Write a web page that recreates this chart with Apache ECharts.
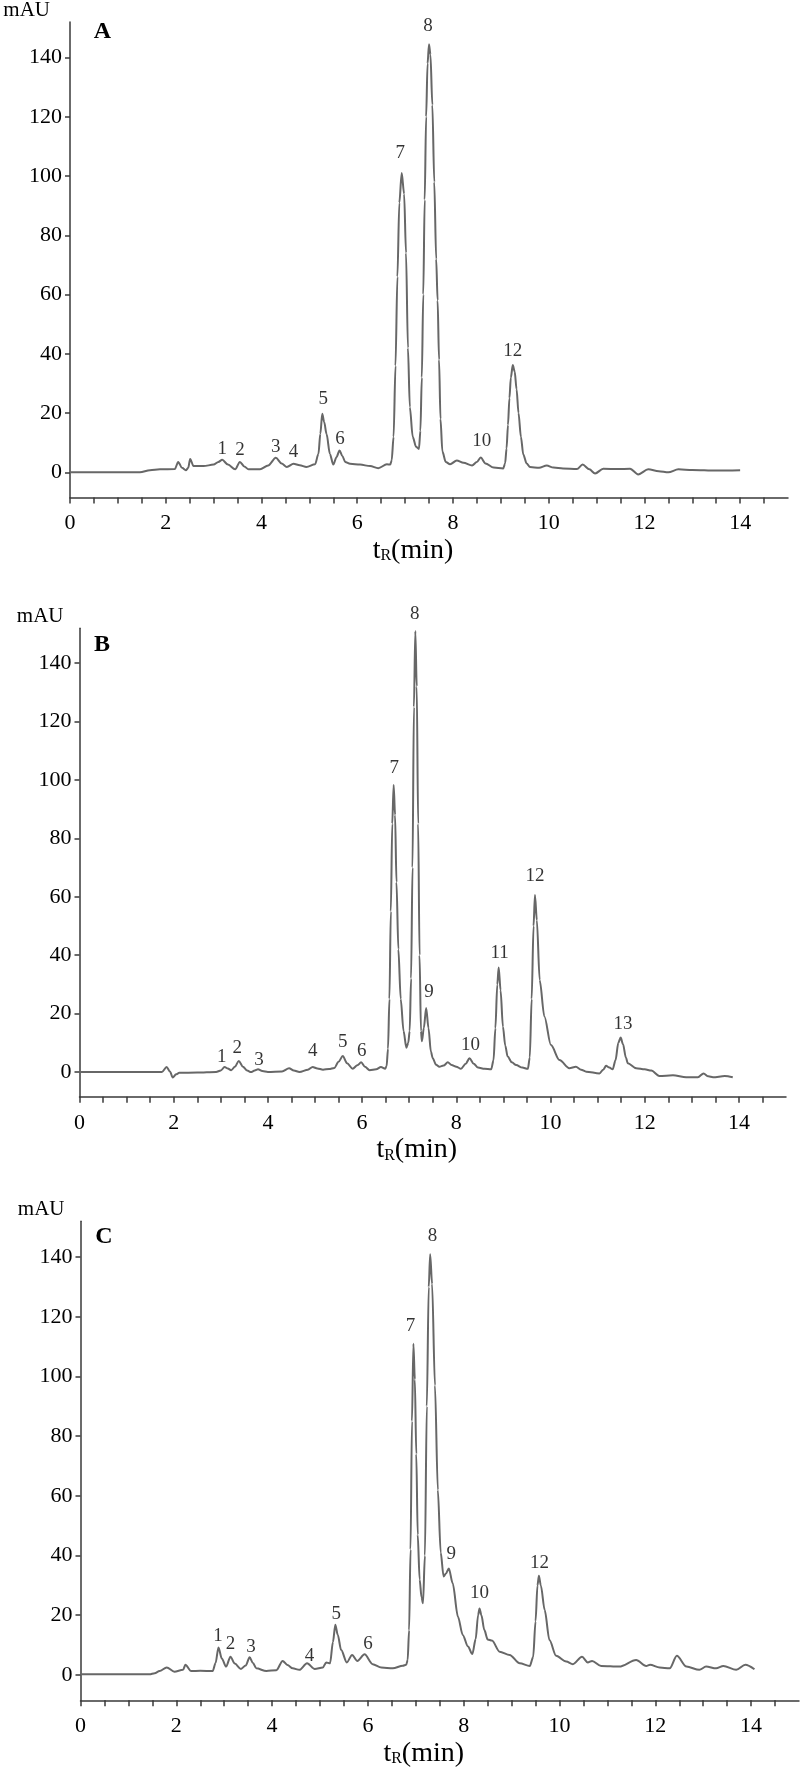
<!DOCTYPE html>
<html>
<head>
<meta charset="utf-8">
<script src="https://cdn.jsdelivr.net/npm/echarts@6/dist/echarts.min.js"></script>
<style>
  html, body { margin: 0; padding: 0; background: #fff; }
  #chart { width: 800px; height: 1772px; }
</style>
</head>
<body>
<div id="chart"></div>
<script>
// chromatograms, [tR (min), signal (mAU)]
const traceA = [
  [0, 0], [0.5, 0], [1.0, 0], [1.46, 0], [1.67, 0.7], [1.88, 1.0], [2.19, 1.1], [2.26, 3.5], [2.34, 1.5],
  [2.42, 0.7], [2.47, 1.5], [2.51, 4.5], [2.58, 2.1], [2.79, 2.1], [3.0, 2.6], [3.1, 3.5], [3.18, 4.2],
  [3.3, 2.6], [3.45, 1.0], [3.55, 3.5], [3.64, 2.0], [3.73, 1.0], [3.97, 1.0], [4.14, 2.3], [4.3, 4.9],
  [4.42, 3.0], [4.53, 1.8], [4.67, 2.9], [4.8, 2.4], [4.94, 1.8], [5.12, 2.7], [5.19, 6.2], [5.23, 13],
  [5.27, 19.8], [5.31, 17], [5.36, 12.9], [5.43, 6.2], [5.5, 2.6], [5.57, 5.2], [5.63, 7.4], [5.69, 5.5],
  [5.75, 3.5], [5.85, 2.9], [6.06, 2.6], [6.27, 2.1], [6.44, 1.4], [6.62, 2.7], [6.69, 2.6],
  [6.72, 4], [6.76, 12], [6.8, 36], [6.84, 66], [6.88, 91], [6.93, 101], [6.98, 94], [7.02, 74],
  [7.06, 42], [7.1, 22], [7.16, 12], [7.23, 8.6], [7.29, 7.9],
  [7.32, 14], [7.35, 32], [7.38, 60], [7.41, 92], [7.44, 120], [7.47, 138], [7.5, 144.5], [7.53, 141],
  [7.57, 124], [7.61, 98], [7.65, 72], [7.68, 58], [7.71, 38], [7.74, 18], [7.78, 7], [7.85, 3.5],
  [7.94, 2.7], [8.08, 4.0], [8.22, 3.2], [8.4, 2.3], [8.5, 3.5], [8.58, 5.0], [8.68, 3.0], [8.85, 1.6],
  [9.05, 1.3], [9.09, 3], [9.12, 8], [9.15, 16], [9.18, 25], [9.21, 32], [9.25, 36.2], [9.29, 34],
  [9.33, 28], [9.37, 20], [9.42, 12], [9.47, 6], [9.54, 3], [9.61, 1.8],
  [9.8, 1.5], [9.96, 2.3], [10.1, 1.6], [10.3, 1.3], [10.59, 1.1], [10.71, 2.6], [10.85, 1.0],
  [10.97, -0.4], [11.14, 1.2], [11.45, 1.1], [11.7, 1.2], [11.87, -0.7], [12.08, 1.0], [12.3, 0.4],
  [12.5, 0], [12.71, 1.0], [13.0, 0.8], [13.5, 0.6], [14.0, 0.7]
];
const traceB = [
  [0, 0], [1.0, 0], [1.75, 0], [1.85, 1.7], [1.92, 0.2], [1.98, -1.9], [2.05, -0.8], [2.12, -0.3],
  [2.5, -0.2], [2.9, 0], [3.0, 0.5], [3.08, 1.7], [3.15, 1.2], [3.22, 0.6], [3.3, 1.8], [3.38, 3.8],
  [3.47, 1.8], [3.56, 0.5], [3.64, 0], [3.72, 0.5], [3.79, 0.9], [3.88, 0.3], [4.0, 0], [4.3, 0.2],
  [4.45, 1.3], [4.55, 0.5], [4.67, 0], [4.85, 0.8], [4.95, 1.7], [5.05, 1.2], [5.17, 0.8], [5.3, 1.0],
  [5.41, 1.4], [5.5, 3.5], [5.59, 5.5], [5.68, 3.0], [5.8, 1.1], [5.9, 2.3], [5.98, 3.3], [6.06, 1.8],
  [6.16, 0.6], [6.3, 0.9], [6.4, 1.7], [6.49, 1.1], [6.52, 2], [6.55, 8], [6.58, 25], [6.61, 55],
  [6.64, 85], [6.67, 98.3], [6.7, 88], [6.73, 65], [6.77, 42], [6.82, 25], [6.88, 14], [6.94, 8.3],
  [6.98, 10], [7.01, 14], [7.04, 32], [7.07, 70], [7.1, 125], [7.13, 151], [7.16, 132], [7.19, 85],
  [7.22, 40], [7.25, 14], [7.27, 10.5], [7.31, 15], [7.36, 21.9], [7.41, 15], [7.46, 7], [7.5, 4.7],
  [7.57, 2.5], [7.64, 1.8], [7.73, 2.2], [7.82, 3.3], [7.9, 2.4], [8.0, 1.8], [8.1, 1.1], [8.2, 2.8],
  [8.28, 4.7], [8.37, 2.8], [8.46, 1.5], [8.6, 1.1], [8.74, 0.9], [8.79, 4], [8.83, 15], [8.87, 30],
  [8.9, 35.8], [8.94, 28], [8.99, 15.5], [9.04, 9], [9.09, 5.3], [9.18, 3.3], [9.27, 2.4], [9.4, 1.5],
  [9.52, 1.1], [9.56, 5], [9.6, 25], [9.64, 50], [9.67, 60.6], [9.71, 52], [9.77, 31.5], [9.87, 19],
  [10.01, 9.2], [10.19, 4.1], [10.4, 1.3], [10.54, 1.8], [10.65, 0.8], [10.76, 0.1], [11.04, -0.5],
  [11.12, 0.8], [11.18, 2.1], [11.25, 1.5], [11.32, 0.9], [11.38, 4], [11.44, 10], [11.49, 11.8],
  [11.54, 9.5], [11.6, 5], [11.64, 3], [11.82, 1.3], [12.0, 0.9], [12.14, 0.5], [12.31, -1.4],
  [12.6, -1.1], [12.88, -1.8], [13.13, -1.8], [13.25, -0.5], [13.35, -1.5], [13.45, -1.8],
  [13.7, -1.4], [13.87, -1.8]
];
const traceC = [
  [0, 0.2], [1.0, 0.2], [1.44, 0.2], [1.55, 0.6], [1.65, 1.3], [1.8, 2.5], [1.96, 1.1], [2.14, 1.7],
  [2.19, 3.4], [2.31, 1.3], [2.5, 1.4], [2.76, 1.3], [2.82, 4], [2.88, 9.2], [2.95, 5.5], [3.04, 2.8],
  [3.13, 6.1], [3.22, 3.8], [3.35, 2.0], [3.45, 3.2], [3.53, 5.9], [3.6, 4.0], [3.67, 2.2], [3.88, 1.3],
  [4.09, 1.6], [4.22, 4.7], [4.32, 3.3], [4.43, 2.2], [4.57, 1.7], [4.73, 3.9], [4.89, 2.0], [5.06, 2.5],
  [5.13, 4.2], [5.21, 3.9], [5.27, 11], [5.32, 16.8], [5.37, 13.5], [5.44, 8.4], [5.56, 4.2],
  [5.67, 6.7], [5.78, 4.7], [5.93, 6.9], [6.1, 3.6], [6.28, 2.5], [6.52, 2.2], [6.73, 3.1], [6.8, 3.4],
  [6.83, 5], [6.86, 15], [6.89, 42], [6.92, 85], [6.95, 111], [6.98, 99], [7.01, 74], [7.04, 47],
  [7.08, 32], [7.12, 26], [7.15, 24],
  [7.19, 40], [7.23, 90], [7.27, 130], [7.3, 141], [7.34, 131], [7.4, 97], [7.46, 62], [7.52, 41],
  [7.58, 33], [7.63, 34], [7.69, 35.7], [7.77, 30.7], [7.88, 19.5], [7.98, 13.4], [8.09, 9.5],
  [8.18, 7.0], [8.25, 12], [8.3, 20], [8.33, 22.3], [8.37, 20], [8.43, 15.1], [8.5, 11.9], [8.59, 11.5],
  [8.75, 7.8], [8.96, 6.7], [9.17, 3.9], [9.38, 3.0], [9.45, 6], [9.5, 18], [9.54, 30], [9.57, 33.2],
  [9.61, 30], [9.69, 21.8], [9.79, 11.7], [9.93, 6.4], [10.14, 4.5], [10.28, 3.6], [10.47, 6.1],
  [10.59, 4.2], [10.68, 4.7], [10.87, 3.0], [11.25, 2.8], [11.6, 5.0], [11.81, 3.0], [11.89, 3.4],
  [12.09, 2.5], [12.3, 2.2], [12.45, 6.4], [12.65, 2.8], [12.92, 1.7], [13.06, 2.8], [13.27, 2.2],
  [13.42, 3.0], [13.69, 1.7], [13.88, 3.4], [14.07, 1.9]
];

// peak numbers [label, tR, mAU]
const peaksA = [["1", 3.18, 7.7], ["2", 3.55, 7.4], ["3", 4.30, 8.7], ["4", 4.67, 7.0], ["5", 5.29, 24.6],
  ["6", 5.64, 11.3], ["7", 6.9, 107.7], ["8", 7.48, 150.5], ["10", 8.6, 10.4], ["12", 9.25, 41]];
const peaksB = [["1", 3.02, 5.2], ["2", 3.35, 8.1], ["3", 3.81, 4.1], ["4", 4.95, 7.3], ["5", 5.59, 10.4],
  ["6", 5.99, 7.3], ["7", 6.68, 104], ["8", 7.12, 157], ["9", 7.42, 27.5], ["10", 8.3, 9.2],
  ["11", 8.92, 40.9], ["12", 9.67, 67], ["13", 11.54, 16.4]];
const peaksC = [["1", 2.87, 13.1], ["2", 3.13, 10.4], ["3", 3.56, 9.3], ["4", 4.78, 6.4], ["5", 5.34, 20.4],
  ["6", 6.0, 10.4], ["7", 6.89, 117], ["8", 7.35, 147], ["9", 7.74, 40.5], ["10", 8.33, 27.6],
  ["12", 9.58, 37.6]];

const panelNames = ["A", "B", "C"];
const xTickLabels = [0, 2, 4, 6, 8, 10, 12, 14];
const xTicks = [0, 0.5, 1, 1.5, 2, 2.5, 3, 3.5, 4, 4.5, 5, 5.5, 6, 6.5, 7, 7.5, 8, 8.5, 9, 9.5,
  10, 10.5, 11, 11.5, 12, 12.5, 13, 13.5, 14, 14.5];
const yTickLabels = [0, 20, 40, 60, 80, 100, 120, 140];

const FONT = '"Liberation Serif", "Times New Roman", serif';
const AXIS_COLOR = '#3a3a3a';
const LINE_COLOR = '#676767';

// panel boxes in px, letter = position of the panel letter
const boxes = [
  { left: 70, top: 17.5, width: 718, height: 480, letter: [102.5, 32] },
  { left: 79.5, top: 628.2, width: 706.5, height: 468.6, letter: [102, 645] },
  { left: 80.5, top: 1221.3, width: 718.5, height: 479, letter: [104, 1237] }
];
const traces = [traceA, traceB, traceC];
const peaks = [peaksA, peaksB, peaksC];

const chart = echarts.init(document.getElementById('chart'));

const grid = [], xAxis = [], yAxis = [], series = [], graphic = [];
boxes.forEach((b, i) => {
  grid.push({ left: b.left, top: b.top, width: b.width, height: b.height });
  xAxis.push({
    gridIndex: i, type: 'value', min: 0, max: 15,
    name: '{t|t}{r|R}{m|(min)}', nameLocation: 'middle', nameGap: 39,
    nameTextStyle: {
      padding: [0, 32, 0, 0],
      rich: {
        t: { fontFamily: FONT, fontSize: 28, color: '#000' },
        r: { fontFamily: FONT, fontSize: 16, color: '#000', padding: [11, 0, 0, 0] },
        m: { fontFamily: FONT, fontSize: 28, color: '#000' }
      }
    },
    axisLine: { onZero: false, lineStyle: { color: AXIS_COLOR, width: 1.5 } },
    axisTick: { customValues: xTicks, length: 6, lineStyle: { color: AXIS_COLOR, width: 1.5 } },
    axisLabel: { customValues: xTickLabels, margin: 15, fontFamily: FONT, fontSize: 22, color: '#000' },
    splitLine: { show: false }
  });
  yAxis.push({
    gridIndex: i, type: 'value', min: -8.5, max: 152,
    name: 'mAU', nameLocation: 'end', nameGap: 1,
    nameTextStyle: { fontFamily: FONT, fontSize: 21, color: '#000', align: 'right', padding: [0, i === 0 ? 20 : 16, 0, 0] },
    axisLine: { lineStyle: { color: AXIS_COLOR, width: 1.5 } },
    axisTick: { customValues: yTickLabels, length: 5, lineStyle: { color: AXIS_COLOR, width: 1.5 } },
    axisLabel: { customValues: yTickLabels, margin: 8, fontFamily: FONT, fontSize: 22, color: '#000' },
    splitLine: { show: false }
  });
  series.push({
    type: 'line', xAxisIndex: i, yAxisIndex: i, data: traces[i],
    showSymbol: false, smooth: 0.3, smoothMonotone: 'x', clip: false,
    lineStyle: { color: LINE_COLOR, width: 2 }, silent: true
  });
  series.push({
    type: 'scatter', xAxisIndex: i, yAxisIndex: i, symbolSize: 0, clip: false, silent: true,
    data: peaks[i].map(p => ({ name: p[0], value: [p[1], p[2]] })),
    label: { show: true, position: 'inside', formatter: '{b}', fontFamily: FONT, fontSize: 19, color: '#000' }
  });
  graphic.push({
    type: 'text', x: b.letter[0], y: b.letter[1],
    style: {
      text: panelNames[i], font: 'bold 24px ' + FONT, fill: '#000',
      align: 'center', verticalAlign: 'middle', textAlign: 'center', textVerticalAlign: 'middle'
    }
  });
});

chart.setOption({ animation: false, grid, xAxis, yAxis, series, graphic });
</script>
</body>
</html>
